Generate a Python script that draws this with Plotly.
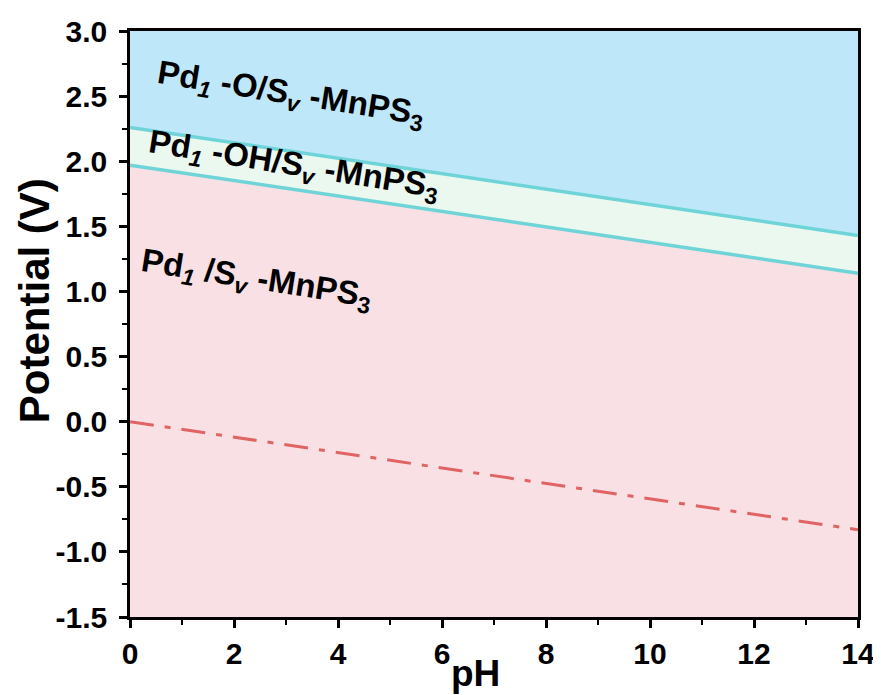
import plotly.graph_objects as go

# Data
ph = [0, 14]
e_upper = [2.26, 1.43]   # Pd1-O / Pd1-OH boundary
e_lower = [1.97, 1.14]   # Pd1-OH / Pd1 boundary
e_she = [0.0, -0.83]     # reference dash-dot line
y_range = [-1.5, 3.0]
x_range = [0, 14]
x_ticks = [0, 2, 4, 6, 8, 10, 12, 14]
y_ticks = [-1.5, -1.0, -0.5, 0.0, 0.5, 1.0, 1.5, 2.0, 2.5, 3.0]
y_ticktext = ["-1.5", "-1.0", "-0.5", "0.0", "0.5", "1.0", "1.5", "2.0", "2.5", "3.0"]
labels = [
    "Pd<sub><i>1</i></sub> -O/S<sub><i>v</i></sub> -MnPS<sub>3</sub>",
    "Pd<sub><i>1</i></sub> -OH/S<sub><i>v</i></sub> -MnPS<sub>3</sub>",
    "Pd<sub><i>1</i></sub> /S<sub><i>v</i></sub> -MnPS<sub>3</sub>",
]
label_x = [3.1, 3.15, 2.43]
label_y = [2.51, 1.96, 1.09]
x_title = "pH"
y_title = "Potential (V)"

FONT = "Liberation Sans, Arial, sans-serif"

fig = go.Figure()

# Pink region: below lower boundary
fig.add_trace(go.Scatter(
    x=[ph[0], ph[1], ph[1], ph[0]],
    y=[e_lower[0], e_lower[1], y_range[0], y_range[0]],
    fill="toself", fillcolor="#f9e0e4", line=dict(width=0),
    mode="lines", hoverinfo="skip", showlegend=False))
# Green region: between boundaries
fig.add_trace(go.Scatter(
    x=[ph[0], ph[1], ph[1], ph[0]],
    y=[e_upper[0], e_upper[1], e_lower[1], e_lower[0]],
    fill="toself", fillcolor="#ebf8ef", line=dict(width=0),
    mode="lines", hoverinfo="skip", showlegend=False))
# Blue region: above upper boundary
fig.add_trace(go.Scatter(
    x=[ph[0], ph[1], ph[1], ph[0]],
    y=[e_upper[0], e_upper[1], y_range[1], y_range[1]],
    fill="toself", fillcolor="#bee8f9", line=dict(width=0),
    mode="lines", hoverinfo="skip", showlegend=False))

# Boundary lines
for ys in (e_upper, e_lower):
    fig.add_trace(go.Scatter(x=ph, y=ys, mode="lines",
                             line=dict(color="#6ed4d8", width=3.5),
                             showlegend=False))

# Dash-dot line
fig.add_trace(go.Scatter(x=ph, y=e_she, mode="lines",
                         line=dict(color="#e06464", width=3, dash="24px,11px,6px,11px"),
                         showlegend=False))

for t, xx, yy in zip(labels, label_x, label_y):
    fig.add_annotation(x=xx, y=yy, text=t, showarrow=False, textangle=9,
                       font=dict(family=FONT, size=33, color="black", weight="bold"))

# Axis titles as annotations for exact placement
fig.add_annotation(x=0, y=0.539, xref="paper", yref="paper", xanchor="center", yanchor="middle",
                   xshift=-96, text=y_title, textangle=-90, showarrow=False,
                   font=dict(family=FONT, size=42, color="black", weight="bold"))
fig.add_annotation(x=0.475, y=0, xref="paper", yref="paper", xanchor="center", yanchor="middle",
                   yshift=-56, text=x_title, showarrow=False,
                   font=dict(family=FONT, size=37, color="black", weight="bold"))

axis_common = dict(
    showline=True, linecolor="black", linewidth=2.5, mirror=True,
    ticks="outside", ticklen=8, tickwidth=2.5, tickcolor="black",
    showgrid=False, zeroline=False, automargin=False,
    tickfont=dict(family=FONT, size=30, color="black", weight="bold"),
)

fig.update_xaxes(range=x_range, tickmode="array", tickvals=x_ticks,
                 minor=dict(ticks="outside", ticklen=5, tickwidth=2, tickcolor="black",
                            tickvals=list(range(1, 14, 2))),
                 **axis_common)
fig.update_yaxes(range=y_range, tickmode="array",
                 tickvals=y_ticks, ticktext=y_ticktext,
                 ticklabelstandoff=6,
                 minor=dict(ticks="outside", ticklen=5, tickwidth=2, tickcolor="black",
                            tickvals=[-1.25, -0.75, -0.25, 0.25, 0.75, 1.25, 1.75, 2.25, 2.75]),
                 **axis_common)

fig.update_layout(
    width=873, height=687,
    margin=dict(l=122, r=23, t=23, b=78),
    paper_bgcolor="white", plot_bgcolor="#f9e0e4",
    font=dict(family=FONT),
)

fig.write_html("out.html")
